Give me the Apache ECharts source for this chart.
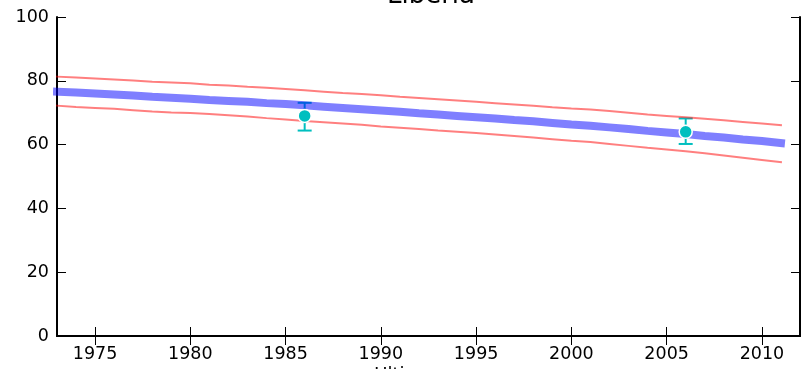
<!DOCTYPE html>
<html>
<head>
<meta charset="utf-8">
<script src="https://cdn.jsdelivr.net/npm/echarts@6/dist/echarts.min.js"></script>
<style>html,body{margin:0;padding:0;background:#fff}#c{width:811px;height:369px}</style>
</head>
<body>
<div id="c"></div>
<script>
const years = [1973,1974,1975,1976,1977,1978,1979,1980,1981,1982,1983,1984,1985,1986,1987,1988,1989,1990,1991,1992,1993,1994,1995,1996,1997,1998,1999,2000,2001,2002,2003,2004,2005,2006,2007,2008,2009,2010,2011];
const estimate = [76.6,76.3,76.0,75.7,75.4,75.0,74.7,74.4,74.0,73.7,73.4,73.0,72.7,72.3,71.9,71.5,71.1,70.7,70.3,69.8,69.4,69.0,68.6,68.2,67.7,67.3,66.8,66.3,65.9,65.4,64.9,64.3,63.8,63.3,62.7,62.2,61.6,61.1,60.5];
const upper = [81.3,81.0,80.7,80.4,80.1,79.7,79.5,79.2,78.8,78.5,78.1,77.8,77.4,77.0,76.6,76.2,75.9,75.5,75.0,74.6,74.2,73.8,73.4,73.0,72.6,72.2,71.7,71.3,71.0,70.5,70.0,69.4,69.0,68.6,68.1,67.6,67.1,66.6,66.1];
const lower = [72.2,71.8,71.5,71.2,70.8,70.4,70.1,69.9,69.6,69.2,68.8,68.3,67.9,67.4,67.0,66.6,66.2,65.7,65.3,64.9,64.4,64.0,63.6,63.2,62.7,62.2,61.7,61.2,60.8,60.2,59.6,59.0,58.5,57.9,57.3,56.6,55.9,55.2,54.5];
const surveyYears = [1986, 2006];
const surveyValues = [69.0, 64.0];
const surveyLow = [64.4, 60.2];
const surveyHigh = [73.1, 68.2];
const xTicks = [1975,1980,1985,1990,1995,2000,2005,2010];
const yTicks = [0,20,40,60,80,100];
const titleText = 'Liberia';
const xName = 'Ultimo anno';

const chart = echarts.init(document.getElementById('c'), null, {renderer:'canvas'});
const font = 'DejaVu Sans';
const pair = (xs, ys) => xs.map((x,i)=>[x, ys[i]]);
const tickStyle = {show:true, inside:true, length:9, lineStyle:{color:'#000', width:1}};
const axisCommon = {
  type:'value',
  axisLine:{show:true, lineStyle:{color:'#000', width:2}},
  splitLine:{show:false}
};
chart.setOption({
  animation:false,
  textStyle:{fontFamily:font},
  grid:{left:57, right:11, top:17, bottom:33, containLabel:false},
  xAxis:[
    Object.assign({}, axisCommon, {min:1973, max:2012, position:'bottom',
      axisLabel:{color:'#000', fontSize:17.5, fontFamily:font, margin:9,
        customValues: xTicks, formatter: v => String(v)},
      axisTick:Object.assign({customValues: xTicks}, tickStyle)}),
    Object.assign({}, axisCommon, {min:1973, max:2012, position:'top',
      axisLabel:{show:false},
      axisTick:Object.assign({customValues: xTicks}, tickStyle)})
  ],
  yAxis:[
    Object.assign({}, axisCommon, {min:0, max:100, position:'left',
      axisLabel:{color:'#000', fontSize:17.5, fontFamily:font, margin:8, customValues: yTicks},
      axisTick:Object.assign({customValues: yTicks}, tickStyle)}),
    Object.assign({}, axisCommon, {min:0, max:100, position:'right',
      axisLabel:{show:false},
      axisTick:Object.assign({customValues: yTicks}, tickStyle)})
  ],
  graphic:[
    {type:'text', style:{text:titleText, font:'26px "DejaVu Sans"', fill:'#000', x:431, y:9, align:'center', verticalAlign:'bottom'}},
    {type:'text', style:{text:xName, font:'18px "DejaVu Sans"', fill:'#000', x:429, y:366, align:'center', verticalAlign:'top'}}
  ],
  series:[
    {type:'custom', xAxisIndex:0, yAxisIndex:0, z:1,
      data: surveyYears.map((y,i)=>[y, surveyLow[i], surveyHigh[i]]),
      renderItem:(params, api)=>{
        const lo = api.coord([api.value(0), api.value(1)]);
        const hi = api.coord([api.value(0), api.value(2)]);
        const hw = 7;
        const st = {stroke:'#00bfbf', lineWidth:2};
        return {type:'group', children:[
          {type:'line', shape:{x1:lo[0], y1:lo[1], x2:hi[0], y2:hi[1]}, style:st},
          {type:'line', shape:{x1:lo[0]-hw, y1:lo[1], x2:lo[0]+hw, y2:lo[1]}, style:st},
          {type:'line', shape:{x1:hi[0]-hw, y1:hi[1], x2:hi[0]+hw, y2:hi[1]}, style:st}
        ]};
      }},
    {type:'line', z:2, data:pair(years, upper), showSymbol:false, symbol:'none',
      lineStyle:{color:'rgba(255,0,0,0.5)', width:2, cap:'square'}},
    {type:'line', z:2, data:pair(years, lower), showSymbol:false, symbol:'none',
      lineStyle:{color:'rgba(255,0,0,0.5)', width:2, cap:'square'}},
    {type:'line', z:2, data:pair(years, estimate), showSymbol:false, symbol:'none',
      lineStyle:{color:'rgba(0,0,255,0.5)', width:8, cap:'square'}},
    {type:'scatter', z:3, data:pair(surveyYears, surveyValues), symbol:'circle', symbolSize:13,
      itemStyle:{color:'#00bfbf', borderColor:'#fff', borderWidth:1.5, opacity:1}}
  ]
});
</script>
</body>
</html>
